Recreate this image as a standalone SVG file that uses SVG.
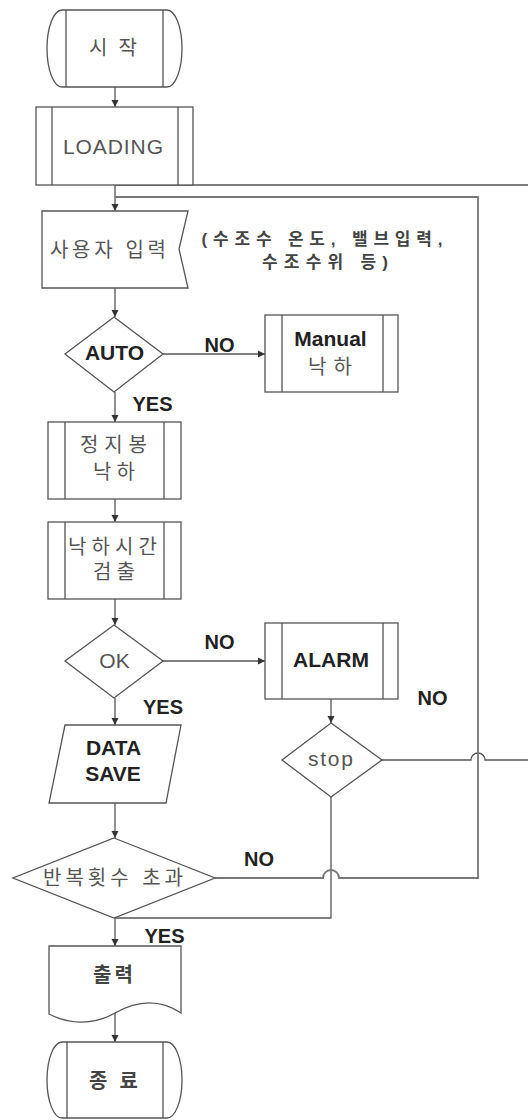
<svg xmlns="http://www.w3.org/2000/svg" width="528" height="1120" viewBox="0 0 528 1120">
<style>
.shape{fill:#fff;stroke:#555;stroke-width:1.3}
.inner{stroke:#555;stroke-width:1.3;fill:none}
.conn{fill:none;stroke:#555;stroke-width:1.3}
.loop{fill:none;stroke:#777;stroke-width:1.8}
.ko{font-family:"Liberation Sans","Noto Sans CJK KR",sans-serif;font-size:20px;fill:#555;text-anchor:middle}
.kob{font-family:"Liberation Sans","Noto Sans CJK KR",sans-serif;font-size:20px;font-weight:bold;fill:#444;text-anchor:middle}
.note{font-family:"Liberation Sans","Noto Sans CJK KR",sans-serif;font-size:17px;font-weight:bold;fill:#444;text-anchor:middle}
.en{font-family:"Liberation Sans",Arial,sans-serif;font-size:21px;fill:#555;text-anchor:middle}
.enb{font-family:"Liberation Sans",Arial,sans-serif;font-size:21px;font-weight:bold;fill:#222;text-anchor:middle}
.lbl{font-family:"Liberation Sans",Arial,sans-serif;font-size:20px;font-weight:bold;fill:#222;text-anchor:middle}
</style>
<defs>
<marker id="arr" markerWidth="8" markerHeight="8" refX="7" refY="4" orient="auto" markerUnits="userSpaceOnUse">
<path d="M0,0.5 L7,4 L0,7.5 Z" fill="#333"/>
</marker>
</defs>
<rect width="528" height="1120" fill="#fff"/>

<g id="connectors">
<path class="conn" d="M115,87 V107" marker-end="url(#arr)"/>
<path class="conn" d="M528,185 H115 V211" marker-end="url(#arr)"/>
<path class="conn" d="M115,288 V317" marker-end="url(#arr)"/>
<path class="conn" d="M163,354 H265" marker-end="url(#arr)"/>
<path class="conn" d="M115,392 V422" marker-end="url(#arr)"/>
<path class="conn" d="M115,499 V522" marker-end="url(#arr)"/>
<path class="conn" d="M115,599 V625" marker-end="url(#arr)"/>
<path class="conn" d="M163,661 H265" marker-end="url(#arr)"/>
<path class="conn" d="M331,699 V723" marker-end="url(#arr)"/>
<path class="conn" d="M382,760 H471 A7,7 0 0 1 485,760 H528"/>
<path class="conn" d="M115,698 V725" marker-end="url(#arr)"/>
<path class="conn" d="M115,803 V838" marker-end="url(#arr)"/>
<path class="conn" d="M331,797 V918 H115"/>
<path class="loop" d="M215,878 H323 A8,8 0 0 1 339,878 H478 V197 H115"/>
<path class="conn" d="M115,918 V946" marker-end="url(#arr)"/>
<path class="conn" d="M115,1013 V1042" marker-end="url(#arr)"/>
</g>

<g id="start">
<path class="shape" d="M62,10 H167 A15,38.5 0 0 1 167,87 H62 A15,38.5 0 0 1 62,10 Z"/>
<path class="inner" d="M66,10 V87 M163,10 V87"/>
<text class="ko" x="113" y="55" font-size="22" textLength="48" lengthAdjust="spacing">시작</text>
</g>

<g id="loading">
<rect class="shape" x="36" y="107" width="157" height="78"/>
<path class="inner" d="M52,107 V185 M178,107 V185"/>
<text class="en" x="113" y="154" font-size="22" textLength="100" lengthAdjust="spacing">LOADING</text>
</g>

<g id="user-input">
<path class="shape" d="M42,211 H188 L179,249 L188,288 H42 Z"/>
<text class="ko" x="108" y="257" textLength="116" lengthAdjust="spacing">사용자 입력</text>
</g>

<g id="note">
<text class="note" x="322" y="245" textLength="241" lengthAdjust="spacing">(수조수 온도, 밸브입력,</text>
<text class="note" x="325" y="268" textLength="126" lengthAdjust="spacing">수조수위 등)</text>
</g>

<g id="auto">
<path class="shape" d="M114,317 L163,354 L114,392 L65,354 Z"/>
<text class="enb" x="114.5" y="360" font-size="20">AUTO</text>
</g>

<g id="manual">
<rect class="shape" x="265" y="315" width="133" height="77"/>
<path class="inner" d="M282,315 V392 M383,315 V392"/>
<text class="enb" x="330.5" y="346">Manual</text>
<text class="ko" x="330" y="374" textLength="44" lengthAdjust="spacing">낙하</text>
</g>

<g id="drop">
<rect class="shape" x="48" y="422" width="133" height="77"/>
<path class="inner" d="M65,422 V499 M164,422 V499"/>
<text class="ko" x="113.5" y="452" textLength="67" lengthAdjust="spacing">정지봉</text>
<text class="ko" x="114" y="479" textLength="42" lengthAdjust="spacing">낙하</text>
</g>

<g id="detect">
<rect class="shape" x="48" y="522" width="133" height="77"/>
<path class="inner" d="M65,522 V599 M164,522 V599"/>
<text class="ko" x="112.5" y="554" textLength="89" lengthAdjust="spacing">낙하시간</text>
<text class="ko" x="114" y="579" textLength="42" lengthAdjust="spacing">검출</text>
</g>

<g id="ok">
<path class="shape" d="M114,625 L163,661 L114,698 L65,661 Z"/>
<text class="en" x="114.5" y="668">OK</text>
</g>

<g id="alarm">
<rect class="shape" x="265" y="623" width="133" height="76"/>
<path class="inner" d="M282,623 V699 M383,623 V699"/>
<text class="enb" x="331" y="667">ALARM</text>
</g>

<g id="stop">
<path class="shape" d="M331,723 L382,760 L331,797 L282,760 Z"/>
<text class="en" x="330.5" y="766" textLength="45" lengthAdjust="spacing">stop</text>
</g>

<g id="data-save">
<path class="shape" d="M65,725 H181 L166,803 H49 Z"/>
<text class="enb" x="113.5" y="755" font-size="22">DATA</text>
<text class="enb" x="113" y="781" font-size="22">SAVE</text>
</g>

<g id="repeat">
<path class="shape" d="M114,838 L215,878 L114,918 L13,878 Z"/>
<text class="ko" x="113" y="885" textLength="140" lengthAdjust="spacing">반복횟수 초과</text>
</g>

<g id="output">
<path class="shape" d="M49,946 H181 V1013 C160,999 138,1000 115,1013 C94,1025 70,1025 49,1014 Z"/>
<text class="kob" x="113" y="982" textLength="40" lengthAdjust="spacing">출력</text>
</g>

<g id="end">
<path class="shape" d="M62,1042 H167 A15,38 0 0 1 167,1118 H62 A15,38 0 0 1 62,1042 Z"/>
<path class="inner" d="M67,1042 V1118 M163,1042 V1118"/>
<text class="kob" x="113.5" y="1088" font-size="22" textLength="49" lengthAdjust="spacing">종료</text>
</g>

<g id="labels">
<text class="lbl" x="219.5" y="352">NO</text>
<text class="lbl" x="152.5" y="411" font-size="19">YES</text>
<text class="lbl" x="219.5" y="649">NO</text>
<text class="lbl" x="163" y="714">YES</text>
<text class="lbl" x="432.5" y="705">NO</text>
<text class="lbl" x="259" y="866">NO</text>
<text class="lbl" x="164.5" y="943">YES</text>
</g>
</svg>
